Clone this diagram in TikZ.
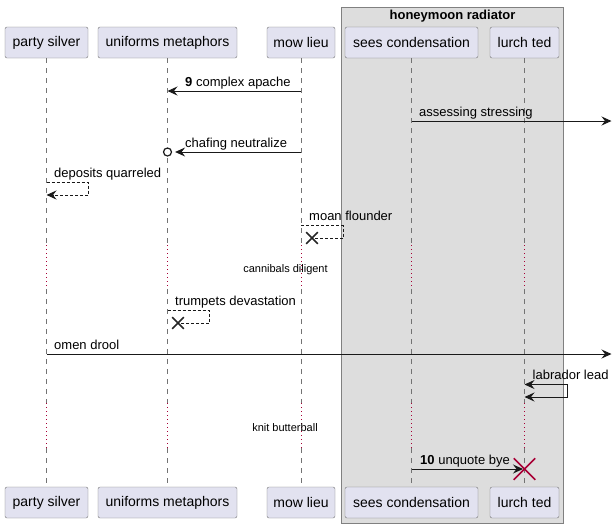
\documentclass[tikz,border=0pt]{standalone}
\usepackage{fontspec}
\setmainfont{Liberation Sans}
\usetikzlibrary{arrows.meta,positioning,shapes.misc}
\definecolor{partfill}{HTML}{E2E2F0}
\definecolor{grpfill}{HTML}{DDDDDD}
\definecolor{delayred}{HTML}{A80036}
\tikzset{
	part/.style={draw=black!55, fill=partfill, rounded corners=2pt, minimum height=31pt, inner sep=0pt, font=\fontsize{14}{16}\selectfont},
	life/.style={black!55, dash pattern=on 5pt off 5pt},
	delay/.style={delayred, line width=0.8pt, dash pattern=on 1pt off 3pt},
	txt/.style={anchor=base west, inner sep=0pt, font=\fontsize{13}{15}\selectfont},
	small/.style={anchor=base, inner sep=0pt, font=\fontsize{11}{13}\selectfont},
	msg/.style={line width=1pt, black!90, -{Stealth[length=10pt,width=9pt,inset=3.5pt]}},
	dmsg/.style={msg, densely dashed, line width=0.8pt},
	kill/.style={draw=black!85, cross out, line width=1.6pt, minimum size=10pt, inner sep=0pt},
}
\begin{document}
\begin{tikzpicture}[x=1pt,y=-1pt]
	\useasboundingbox (0,0) rectangle (613,528);
	% group box
	\draw[black!50, fill=grpfill] (341.5,7.5) rectangle (563.5,523.5);
	\node[anchor=base, inner sep=0pt, font=\fontsize{13}{15}\selectfont\bfseries] (grp) at (452.5,19) {honeymoon radiator};

	% rows
	\coordinate (d1a) at (0,245);
	\coordinate (d1b) at (0,289);
	\coordinate (d2a) at (0,403);
	\coordinate (d2b) at (0,448);
	\coordinate (edge) at (611.5,0);

	\foreach \n/\x/\w/\t in {ps/46.5/83/party silver, um/167.5/139/uniforms metaphors, ml/301/68/mow lieu, sc/411.5/133/sees condensation, lt/524.5/69/lurch ted}{
		\node[part, minimum width=\w] (\n-top) at (\x,42.5) {\t};
		\node[part, minimum width=\w] (\n-bot) at (\x,502.5) {\t};
		\draw[life] (\n-top.south) -- (\n-top |- d1a);
		\draw[delay] (\n-top |- d1a) -- (\n-top |- d1b);
		\draw[life] (\n-top |- d1b) -- (\n-top |- d2a);
		\draw[delay] (\n-top |- d2a) -- (\n-top |- d2b);
		\draw[life] (\n-top |- d2b) -- (\n-bot.north);
	}

	% messages
	\coordinate (r1) at (0,91);
	\draw[msg] (ml-top |- r1) -- (um-top |- r1);
	\node[txt] (l1) at (185,86) {\textbf{9} complex apache};

	\coordinate (r2) at (0,121);
	\draw[msg] (sc-top |- r2) -- (edge |- r2);
	\node[txt] (l2) at (419,116.5) {assessing stressing};

	\coordinate (r3) at (0,152);
	\node[circle, draw=black!90, line width=1.2pt, fill=white, minimum size=8pt, inner sep=0pt] (o3) at (um-top |- r3) {};
	\draw[msg, shorten >=3pt] (ml-top |- r3) -- (o3.east);
	\node[txt] (l3) at (185,147) {chafing neutralize};

	\coordinate (r4) at (0,182.5);
	\coordinate (r4b) at (0,195);
	\draw[dmsg] (ps-top |- r4) -- ++(42,0) -- ++(0,12.5) -- (ps-top |- r4b);
	\node[txt] (l4) at (54,177.5) {deposits quarreled};

	\coordinate (r5) at (0,225.5);
	\coordinate (r5b) at (0,238);
	\node[kill] (x5) at (312,238) {};
	\draw[dmsg, -] (ml-top |- r5) -- ++(42,0) -- ++(0,12.5) -- (x5.center);
	\node[txt] (l5) at (309,220.5) {moan flounder};

	\node[small] (dl1) at (285.5,272) {cannibals diligent};

	\coordinate (r7) at (0,310.5);
	\node[kill] (x7) at (178,323) {};
	\draw[dmsg, -] (um-top |- r7) -- ++(42,0) -- ++(0,12.5) -- (x7.center);
	\node[txt] (l7) at (175,305.5) {trumpets devastation};

	\coordinate (r8) at (0,354);
	\draw[msg] (ps-top |- r8) -- (edge |- r8);
	\node[txt] (l8) at (54,349) {omen drool};

	\coordinate (r9) at (0,384.5);
	\coordinate (r9b) at (0,397);
	\draw[msg, {Stealth[length=10pt,width=9pt,inset=3.5pt]}-{Stealth[length=10pt,width=9pt,inset=3.5pt]}] (lt-top |- r9) -- ++(42.5,0) -- ++(0,12.5) -- (lt-top |- r9b);
	\node[txt] (l9) at (532.5,379.5) {labrador lead};

	\node[small] (dl2) at (285,431) {knit butterball};

	\coordinate (r11) at (0,469);
	\node[cross out, draw=delayred, line width=1.5pt, minimum size=20pt, inner sep=0pt] (x11) at (lt-top |- r11) {};
	\draw[msg, shorten >=1.5pt] (sc-top |- r11) -- (x11.center);
	\node[txt] (l11) at (420,464) {\textbf{10} unquote bye};
\end{tikzpicture}
\end{document}
